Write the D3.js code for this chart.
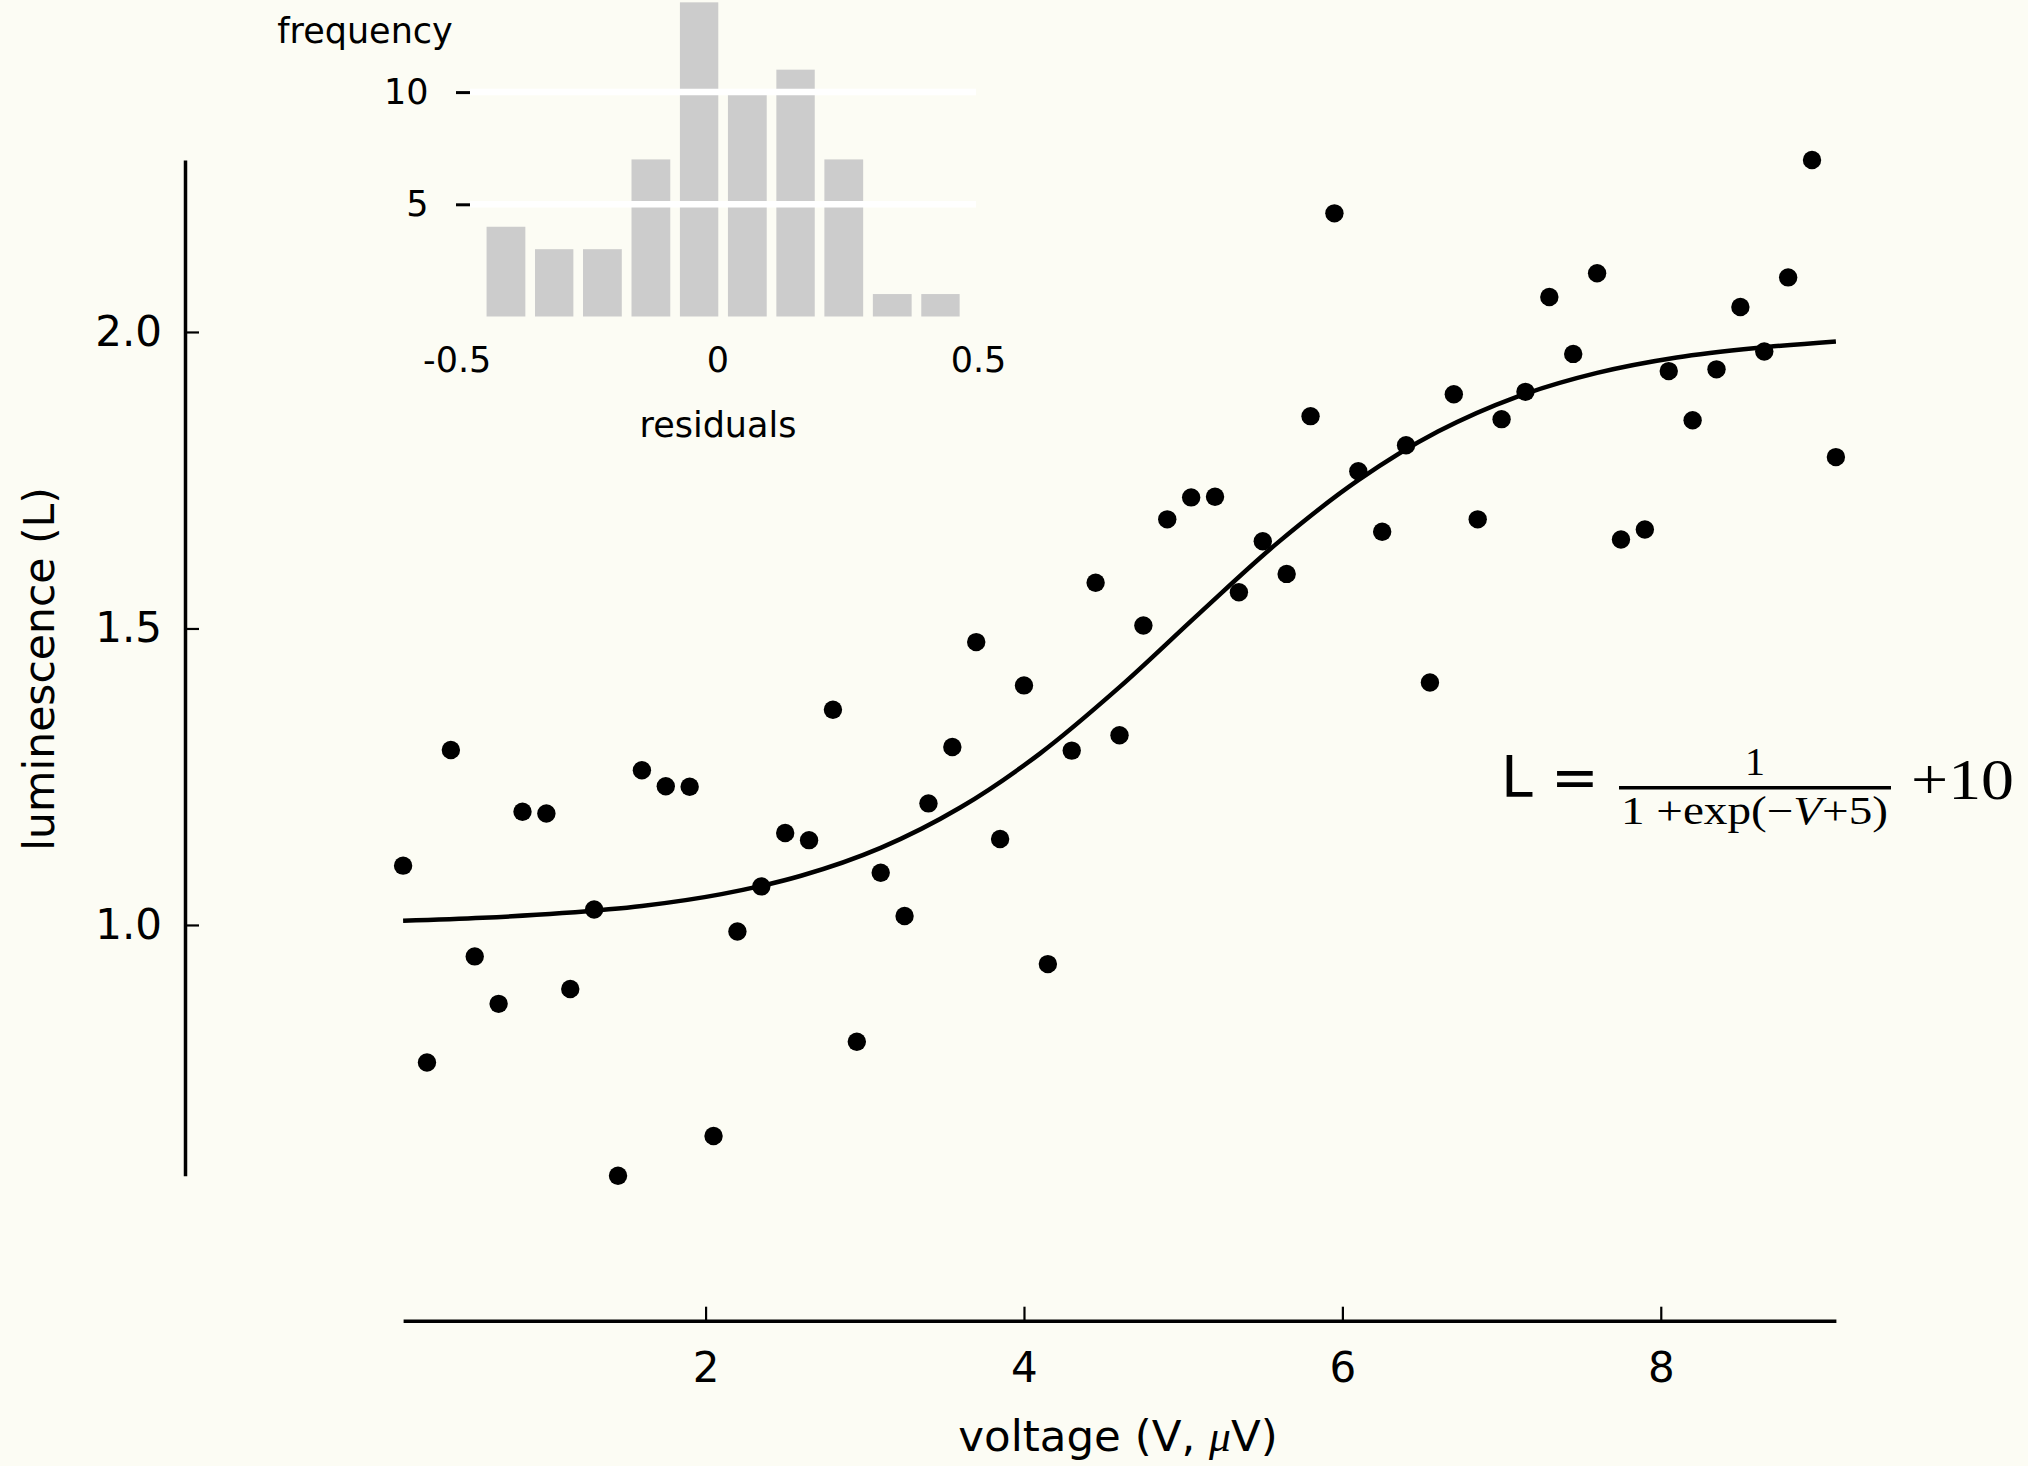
<!DOCTYPE html>
<html>
<head>
<meta charset="utf-8">
<script src="https://cdn.jsdelivr.net/npm/d3@7"></script>
<style>
    body { margin: 0; background: #fcfcf4; }
    svg { display: block; font-family: "DejaVu Sans", sans-serif; }
</style>
</head>
<body>
<svg id="chart"></svg>
<script>
// measured points (V, L)
const voltage = [
    0.1, 0.25, 0.4, 0.55, 0.7, 0.85, 1.0, 1.15, 1.3, 1.45,
    1.6, 1.75, 1.9, 2.05, 2.2, 2.35, 2.5, 2.65, 2.8, 2.95,
    3.1, 3.25, 3.4, 3.55, 3.7, 3.85, 4.0, 4.15, 4.3, 4.45,
    4.6, 4.75, 4.9, 5.05, 5.2, 5.35, 5.5, 5.65, 5.8, 5.95,
    6.1, 6.25, 6.4, 6.55, 6.7, 6.85, 7.0, 7.15, 7.3, 7.45,
    7.6, 7.75, 7.9, 8.05, 8.2, 8.35, 8.5, 8.65, 8.8, 8.95, 9.1
];
const luminescence = [
    1.100, 0.768, 1.295, 0.947, 0.867, 1.191, 1.188, 0.892, 1.026, 0.577,
    1.261, 1.234, 1.233, 0.644, 0.989, 1.065, 1.155, 1.143, 1.363, 0.803,
    1.088, 1.015, 1.205, 1.300, 1.477, 1.145, 1.404, 0.934, 1.294, 1.577,
    1.320, 1.505, 1.684, 1.721, 1.722, 1.561, 1.647, 1.592, 1.858, 2.200,
    1.765, 1.663, 1.809, 1.409, 1.895, 1.684, 1.853, 1.899, 2.059, 1.963,
    2.099, 1.650, 1.667, 1.934, 1.851, 1.937, 2.042, 1.967, 2.092, 2.290, 1.789
];

// fitted curve
const fitVoltage = [0.1, 0.6, 1.1, 1.6, 2.1, 2.6, 3.1, 3.6, 4.1, 4.6, 5.1, 5.6, 6.1, 6.6, 7.1, 7.6, 8.1, 8.6, 9.1];
const fitLuminescence = [1.007, 1.012, 1.020, 1.032, 1.052, 1.083, 1.130, 1.198, 1.289, 1.401,
    1.525, 1.646, 1.750, 1.832, 1.891, 1.931, 1.957, 1.973, 1.984];

// residual histogram
const binEdges = [-0.452, -0.359, -0.267, -0.174, -0.081, 0.011, 0.104, 0.196, 0.289, 0.382, 0.474];
const binCounts = [4, 3, 3, 7, 14, 10, 11, 7, 1, 1];

const xTicks = [2, 4, 6, 8];
const yTicks = [1.0, 1.5, 2.0];
const histXTicks = [-0.5, 0, 0.5];
const histYTicks = [5, 10];

class FitPlot {
    constructor(svg, width = 2028, height = 1466) {
        this.svg = svg;
        this.width = width;
        this.height = height;
    }

    initialize() {
        this.svg = d3.select(this.svg)
            .attr("width", this.width)
            .attr("height", this.height);

        this.xScale = d3.scaleLinear().domain(d3.extent(voltage)).range([403.1, 1835.9]);
        this.yScale = d3.scaleLinear().domain(d3.extent(luminescence)).range([1175.8, 160]);

        this.xAxis = this.svg.append("g").attr("transform", "translate(0, 1320.7)");
        this.yAxis = this.svg.append("g").attr("transform", "translate(185, 0)");
        this.container = this.svg.append("g");
    }

    update() {
        let points = voltage.map((v, i) => ({v: v, l: luminescence[i]}));
        let fit = fitVoltage.map((v, i) => ({v: v, l: fitLuminescence[i]}));

        let line = d3.line()
            .x(d => this.xScale(d.v))
            .y(d => this.yScale(d.l))
            .curve(d3.curveCatmullRom);

        this.container.append("path")
            .datum(fit)
            .attr("d", line)
            .attr("fill", "none")
            .attr("stroke", "#000")
            .attr("stroke-width", 4.5);

        this.container.selectAll("circle")
            .data(points)
            .join("circle")
            .attr("cx", d => this.xScale(d.v))
            .attr("cy", d => this.yScale(d.l))
            .attr("r", 9.2)
            .attr("fill", "#000");

        this.xAxis.call(d3.axisBottom(this.xScale).tickValues(xTicks).tickSizeInner(-14).tickSizeOuter(0));
        this.yAxis.call(d3.axisLeft(this.yScale).tickValues(yTicks).tickSizeInner(-14).tickSizeOuter(0)
            .tickPadding(23).tickFormat(d3.format(".1f")));

        [this.xAxis, this.yAxis].forEach(ax => {
            ax.attr("font-family", null).attr("font-size", 42);
            ax.select(".domain").attr("stroke-width", 3.5);
            ax.selectAll(".tick line").attr("stroke-width", 2.2);
            ax.selectAll(".tick text").attr("fill", "#000");
        });
        this.xAxis.selectAll(".tick text").attr("y", 61.3).attr("dy", 0);

        let xLabel = this.svg.append("text")
            .attr("x", 1118)
            .attr("y", 1451)
            .attr("text-anchor", "middle")
            .attr("font-size", 43.5);
        xLabel.append("tspan").text("voltage (V, ");
        xLabel.append("tspan").attr("font-family", "Liberation Serif").attr("font-style", "italic").text("μ");
        xLabel.append("tspan").text("V)");

        this.svg.append("text")
            .attr("transform", "translate(54, 669) rotate(-90)")
            .attr("text-anchor", "middle")
            .attr("font-size", 42.5)
            .text("luminescence (L)");
    }
}

class ResidualHistogram {
    left = 470;
    right = 976;

    constructor(svg) {
        this.svg = svg;
    }

    initialize() {
        this.svg = d3.select(this.svg);
        this.container = this.svg.append("g");
        this.xScale = d3.scaleLinear().domain([-0.5, 0.5]).range([456.7, 978]);
        this.yScale = d3.scaleLinear().domain([0, 10]).range([316.5, 92.1]);
    }

    update() {
        let bins = binCounts.map((c, i) => ({x0: binEdges[i], x1: binEdges[i + 1], count: c}));
        let binWidth = d => this.xScale(d.x1) - this.xScale(d.x0);

        this.container.selectAll("rect")
            .data(bins)
            .join("rect")
            .attr("x", d => this.xScale(d.x0) + binWidth(d) * 0.1)
            .attr("width", d => binWidth(d) * 0.8)
            .attr("y", d => this.yScale(d.count))
            .attr("height", d => this.yScale(0) - this.yScale(d.count))
            .attr("fill", "#cccccc");

        // white grid drawn over the bars
        this.container.selectAll("line.grid")
            .data(histYTicks)
            .join("line")
            .attr("class", "grid")
            .attr("x1", this.left)
            .attr("x2", this.right)
            .attr("y1", d => this.yScale(d))
            .attr("y2", d => this.yScale(d))
            .attr("stroke", "#fff")
            .attr("stroke-width", 6.5);

        let yAxis = this.svg.append("g")
            .attr("transform", `translate(${this.left}, 0)`)
            .call(d3.axisLeft(this.yScale).tickValues(histYTicks).tickSize(14).tickPadding(27.5));
        let xAxis = this.svg.append("g")
            .attr("transform", `translate(0, ${this.yScale(0)})`)
            .call(d3.axisBottom(this.xScale).tickValues(histXTicks).tickSize(0)
                .tickFormat(d => d === 0 ? "0" : String(d)));

        [xAxis, yAxis].forEach(ax => {
            ax.attr("font-family", null).attr("font-size", 35);
            ax.select(".domain").remove();
            ax.selectAll(".tick text").attr("fill", "#000");
        });
        yAxis.selectAll(".tick line").attr("stroke-width", 3);
        xAxis.selectAll(".tick text").attr("y", 55.2).attr("dy", 0);

        this.svg.append("text")
            .attr("x", 718)
            .attr("y", 437)
            .attr("text-anchor", "middle")
            .attr("font-size", 35)
            .text("residuals");

        this.svg.append("text")
            .attr("x", 365)
            .attr("y", 43)
            .attr("text-anchor", "middle")
            .attr("font-size", 35)
            .text("frequency");
    }
}

function drawEquation(svg) {
    let eq = d3.select(svg).append("g");

    eq.append("text")
        .attr("x", 1501).attr("y", 797)
        .attr("font-size", 57)
        .text("L =");

    eq.append("text")
        .attr("x", 1755).attr("y", 775)
        .attr("text-anchor", "middle")
        .attr("font-family", "Liberation Serif")
        .attr("font-size", 40)
        .text("1");

    eq.append("line")
        .attr("x1", 1619).attr("x2", 1891)
        .attr("y1", 787.7).attr("y2", 787.7)
        .attr("stroke", "#000")
        .attr("stroke-width", 3.5);

    let den = eq.append("text")
        .attr("x", 1621).attr("y", 824)
        .attr("font-family", "Liberation Serif")
        .attr("font-size", 40)
        .attr("textLength", 267)
        .attr("lengthAdjust", "spacingAndGlyphs");
    den.append("tspan").text("1 +exp(−");
    den.append("tspan").attr("font-style", "italic").text("V");
    den.append("tspan").text("+5)");

    eq.append("text")
        .attr("x", 1911).attr("y", 799)
        .attr("font-family", "Liberation Serif")
        .attr("font-size", 57)
        .attr("textLength", 103)
        .attr("lengthAdjust", "spacingAndGlyphs")
        .text("+10");
}

let svgNode = document.getElementById("chart");
let plot = new FitPlot(svgNode);
plot.initialize();
plot.update();

let hist = new ResidualHistogram(svgNode);
hist.initialize();
hist.update();

drawEquation(svgNode);
</script>
</body>
</html>
